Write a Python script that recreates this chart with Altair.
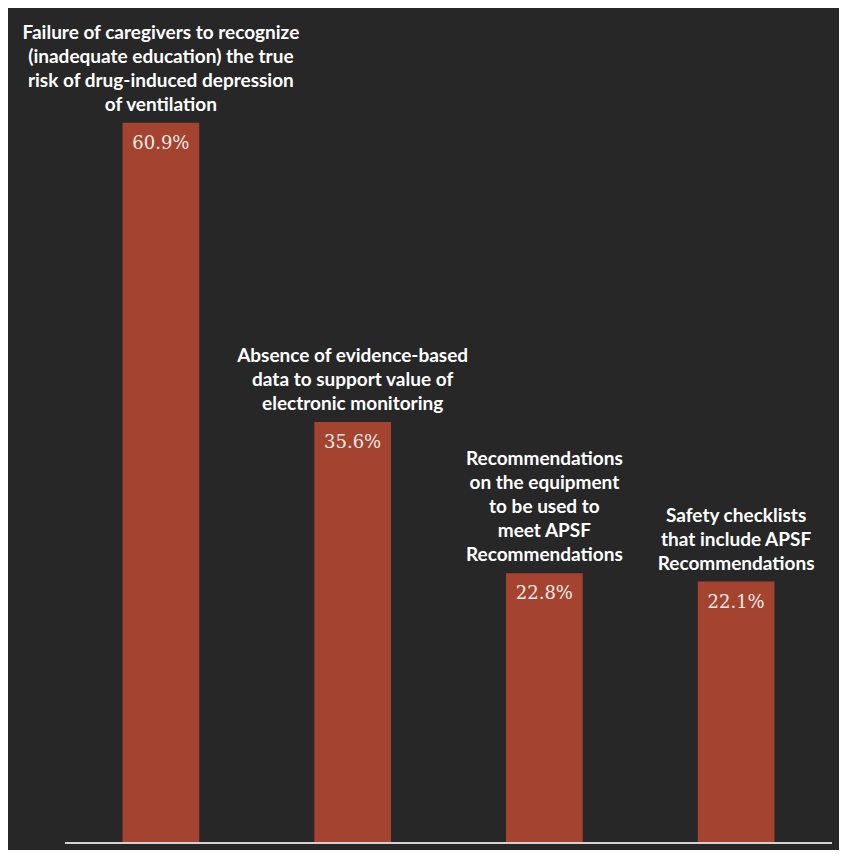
import altair as alt
import pandas as pd

categories = [
    "Failure of caregivers to recognize\n(inadequate education) the true\nrisk of drug-induced depression\nof ventilation",
    "Absence of evidence-based\ndata to support value of\nelectronic monitoring",
    "Recommendations\non the equipment\nto be used to\nmeet APSF\nRecommendations",
    "Safety checklists\nthat include APSF\nRecommendations",
]
values = [60.9, 35.6, 22.8, 22.1]
value_labels = ["60.9%", "35.6%", "22.8%", "22.1%"]

df = pd.DataFrame({
    "idx": [0, 1, 2, 3],
    "category": categories,
    "value": values,
    "label": value_labels,
})

# one row per label line (split from the category texts above)
rows = []
for i, (cat, v) in enumerate(zip(categories, values)):
    lines = cat.split("\n")
    for j, ln in enumerate(lines):
        rows.append({"idx": i, "value": v, "line": ln,
                     "fromBottom": len(lines) - 1 - j})
lines_df = pd.DataFrame(rows)

W, H = 767, 835
YMAX = 70.6
LH = 24
BAR = "#a4432f"
BG = "#272727"

x = alt.X("idx:O", axis=None,
          scale=alt.Scale(paddingInner=0.6, paddingOuter=0.3))
yscale = alt.Scale(domain=[0, YMAX], nice=False, zero=True)
y = alt.Y("value:Q", axis=None, scale=yscale)

base = alt.Chart(df).encode(x=x, y=y)

bars = base.mark_bar(color=BAR)

vals = base.mark_text(
    baseline="top", dy=12, font="DejaVu Serif", fontSize=18,
    color="#f3ebe6"
).encode(text="label:N")

cats = alt.Chart(lines_df).transform_calculate(
    ypos=f"datum.value + datum.fromBottom * {LH} * {YMAX} / {H}"
).mark_text(
    baseline="alphabetic", dy=-12, font="Lato", fontWeight="bold", fontSize=19,
    color="#ffffff", align="center"
).encode(
    x=x,
    y=alt.Y("ypos:Q", axis=None, scale=yscale),
    text="line:N",
)

rule = alt.Chart(df).mark_rule(color="#d2d2d2", strokeWidth=2).encode(
    y=alt.value(H), x=alt.value(0), x2=alt.value(W)
)

chart = alt.layer(bars, rule, vals, cats).properties(
    width=W, height=H,
    background=BG,
    padding={"left": 57, "top": 0, "right": 7, "bottom": 7},
    autosize=alt.AutoSizeParams(type="none"),
).configure_view(stroke=None)

chart.save("out.html", embed_options={"renderer": "svg", "actions": False})
